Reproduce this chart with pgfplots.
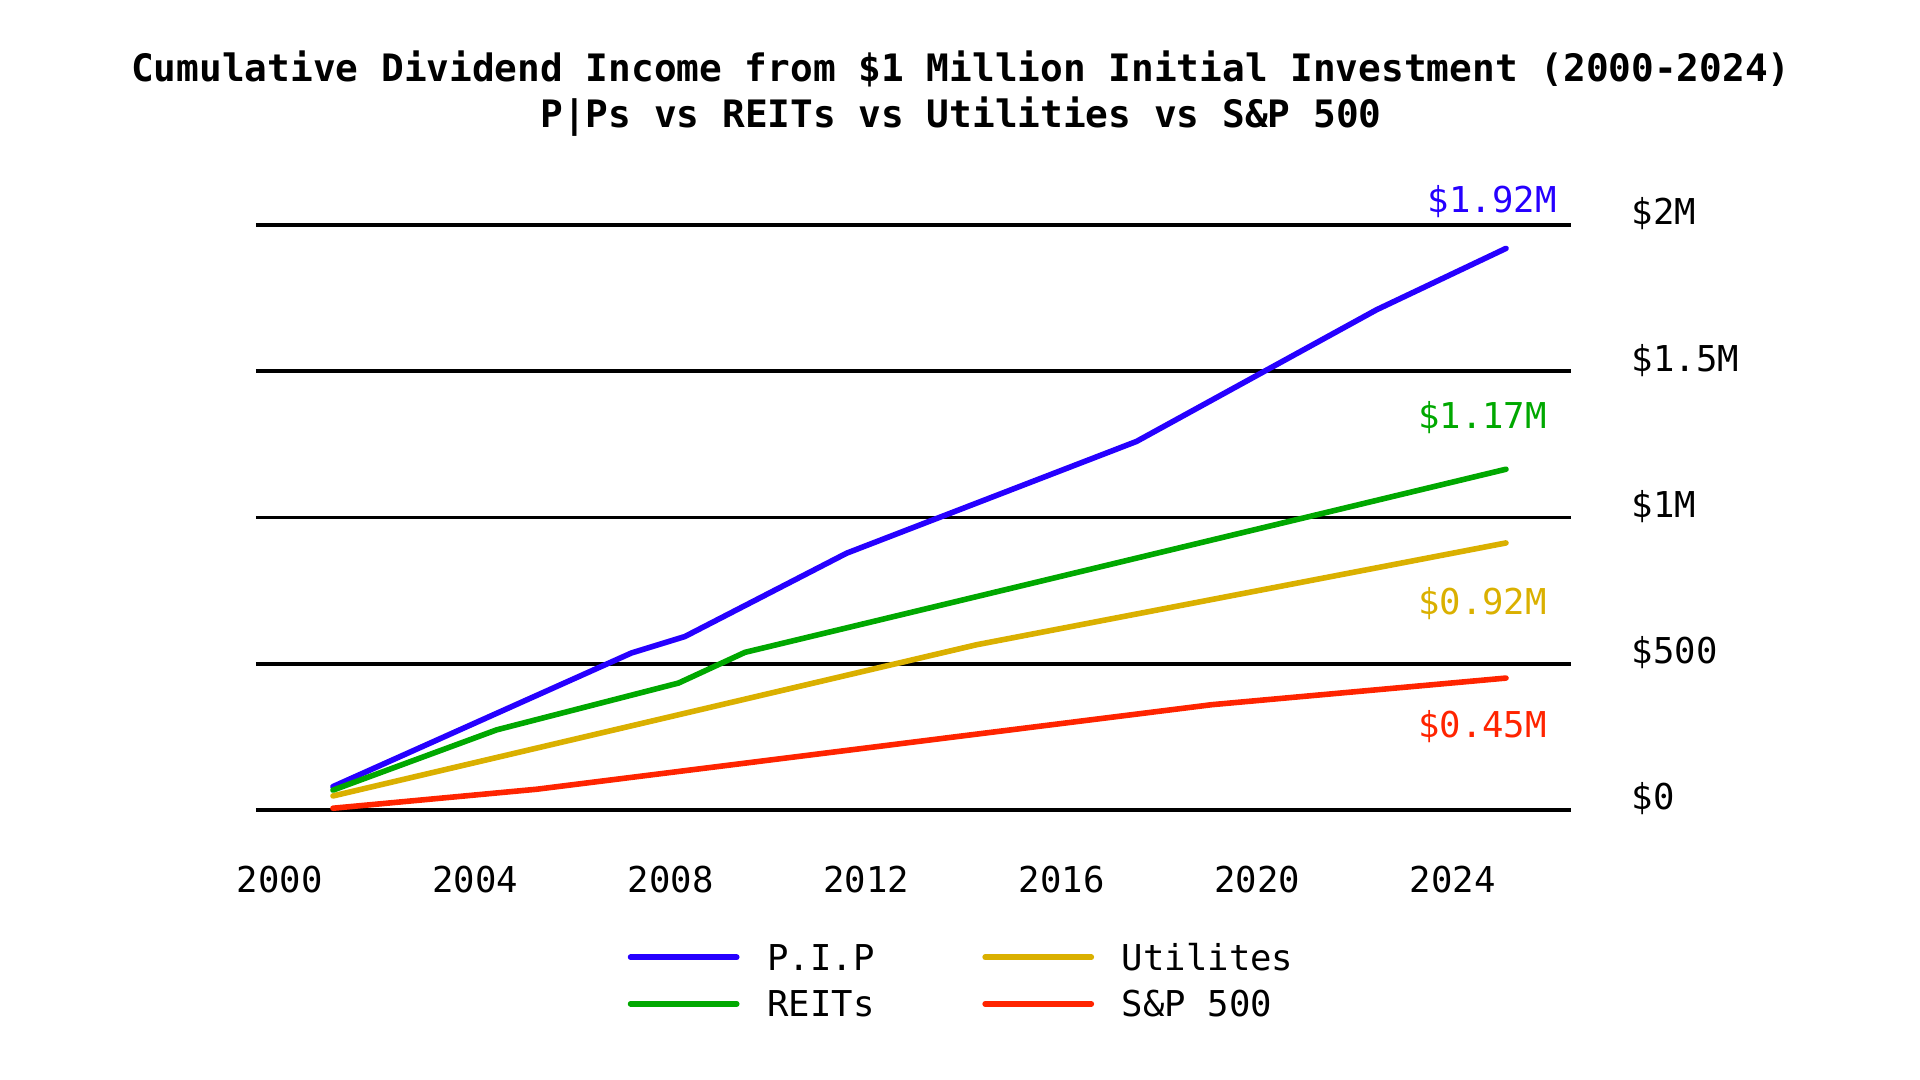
\documentclass[border=0pt]{standalone}
\usepackage{pgfplots}
\pgfplotsset{compat=1.18}
\usepackage{fontspec}
\setmainfont{DejaVu Sans Mono}
\definecolor{pipblue}{RGB}{38,0,255}
\definecolor{reitgreen}{RGB}{0,168,0}
\definecolor{utilgold}{RGB}{218,176,0}
\definecolor{spred}{RGB}{255,36,0}
\begin{document}
\begin{tikzpicture}
\path[use as bounding box] (-64pt,-67.5pt) rectangle (416pt,202.5pt);
\begin{axis}[
  scale only axis,
  width=328.75pt, height=146.25pt,
  at={(0pt,0pt)}, anchor=south west,
  xmin=1999.425, xmax=2026.33,
  ymin=0, ymax=2,
  clip=false,
  axis line style={draw=none},
  tick style={draw=none},
  ymajorgrids,
  major grid style={black, line width=0.9pt},
  xtick={2000,2004,2008,2012,2016,2020,2024},
  xticklabels={2000,2004,2008,2012,2016,2020,2024},
  ytick={0,0.5,1,1.5,2},
  yticklabels={\$0,\$500,\$1M,\$1.5M,\$2M},
  yticklabel pos=right,
  ticklabel style={font=\fontsize{8.9pt}{10pt}\selectfont},
  yticklabel style={anchor=base west, inner sep=0pt, xshift=15pt},
  xticklabel style={anchor=base, inner sep=0pt, yshift=-20.6pt, xshift=-1.1pt},
  legend columns=2,
  legend cell align=left,
  legend image code/.code={\draw[#1, line width=1.4pt, line cap=round] (0pt,0pt) -- (26.55pt,0pt);},
  legend style={draw=none, fill=none, inner sep=0pt, outer sep=0pt,
    font=\fontsize{8.9pt}{10pt}\selectfont,
    nodes={inner sep=0pt, text height=6.5pt, text depth=0pt},
    row sep=5.15pt,
    at={(axis description cs:0.2827,-0.2295)}, anchor=north west,
    /tikz/every odd column/.append style={column sep=6.95pt},
    /tikz/every even column/.append style={column sep=26.96pt}},
]
\addplot[pipblue, line width=1.4pt, line cap=round, line join=round] coordinates {
 (2001,0.080) (2007.11,0.537) (2008.20,0.593) (2011.51,0.878) (2017.44,1.260) (2022.35,1.710) (2025,1.920)};
\addlegendentry{P.I.P}
\addplot[utilgold, line width=1.4pt, line cap=round, line join=round] coordinates {
 (2001,0.048) (2014.17,0.565) (2025,0.913)};
\addlegendentry{Utilites}
\addplot[reitgreen, line width=1.4pt, line cap=round, line join=round] coordinates {
 (2001,0.068) (2004.35,0.274) (2008.07,0.434) (2009.43,0.539) (2025,1.165)};
\addlegendentry{REITs}
\addplot[spred, line width=1.4pt, line cap=round, line join=round] coordinates {
 (2001,0.006) (2005.17,0.071) (2018.98,0.360) (2025,0.451)};
\addlegendentry{S\&P 500}
\node[anchor=base east, text=pipblue, inner sep=0pt, font=\fontsize{8.9pt}{10pt}\selectfont] at (axis cs:2026.05,2.044) {\$1.92M};
\node[anchor=base east, text=reitgreen, inner sep=0pt, font=\fontsize{8.9pt}{10pt}\selectfont] at (axis cs:2025.85,1.303) {\$1.17M};
\node[anchor=base east, text=utilgold, inner sep=0pt, font=\fontsize{8.9pt}{10pt}\selectfont] at (axis cs:2025.85,0.668) {\$0.92M};
\node[anchor=base east, text=spred, inner sep=0pt, font=\fontsize{8.9pt}{10pt}\selectfont] at (axis cs:2025.85,0.247) {\$0.45M};
\end{axis}
\node[anchor=base, inner sep=0pt, font=\fontsize{9.44pt}{11pt}\selectfont\bfseries] at (176.25pt,182.15pt) {Cumulative Dividend Income from \$1 Million Initial Investment (2000-2024)};
\node[anchor=base, inner sep=0pt, font=\fontsize{9.44pt}{11pt}\selectfont\bfseries] at (176.25pt,170.65pt) {P|Ps vs REITs vs Utilities vs S\&P 500};
\end{tikzpicture}
\end{document}
